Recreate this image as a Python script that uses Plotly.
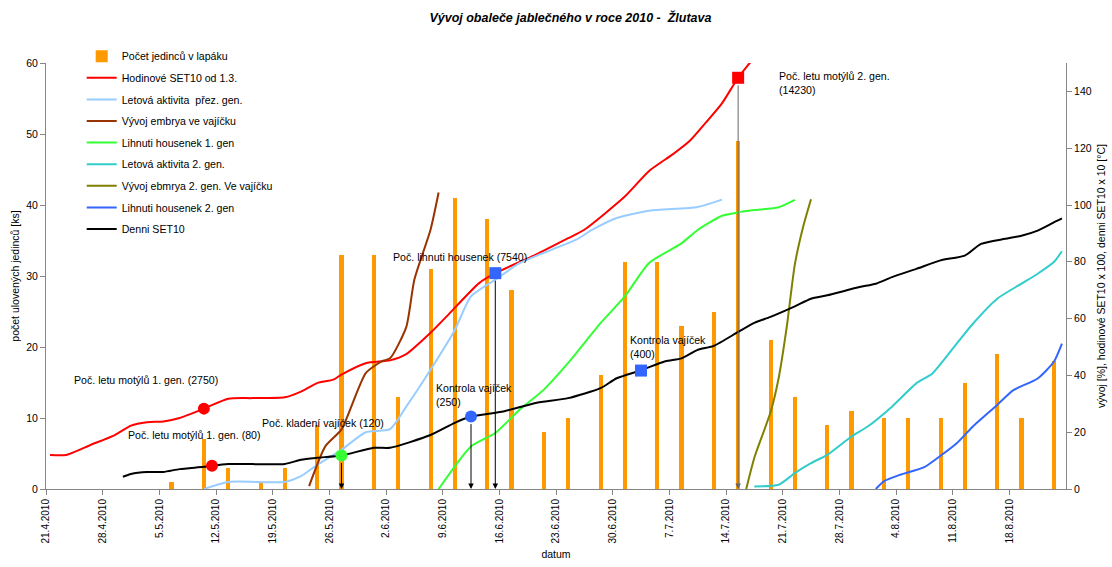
import pandas as pd
import plotly.graph_objects as go

YEAR = "2010"

# --- trap catches (left axis, ks) ---
trap_dates = ["6.5", "10.5", "13.5", "17.5", "20.5", "24.5", "27.5", "31.5", "3.6", "7.6",
              "10.6", "14.6", "17.6", "21.6", "24.6", "28.6", "1.7", "5.7", "8.7", "12.7",
              "15.7", "19.7", "22.7", "26.7", "29.7", "2.8", "5.8", "9.8", "12.8", "16.8",
              "19.8", "23.8"]
trap_counts = [1, 7, 3, 1, 3, 9, 33, 33, 13, 31,
               41, 38, 28, 8, 10, 16, 32, 32, 23, 25,
               49, 21, 13, 9, 11, 10, 10, 10, 15, 19,
               10, 18]

# --- development curves (right axis) ---
set10_hour_dates = ["21.4", "23.4", "26.4", "29.4", "1.5", "3.5", "5.5", "7.5", "10.5", "13.5",
                    "16.5", "20.5", "22.5", "24.5", "26.5", "27.5", "30.5", "2.6", "4.6", "7.6",
                    "9.6", "13.6", "15.6", "20.6", "24.6", "26.6", "1.7", "4.7", "7.7", "9.7",
                    "11.7", "13.7", "15.7", "17.7"]
set10_hour_vals = [12, 12, 15.5, 19, 22.3, 23.5, 23.8, 25, 28.3, 31.8,
                   32, 32.3, 34.3, 37.3, 38.5, 40.3, 44.3, 45.3, 47.5, 55,
                   60.8, 72.5, 76, 82.5, 88.3, 91.3, 103, 112, 118, 122.5,
                   129, 135.8, 144.8, 152]

flight_over_dates = ["10.5", "13.5", "20.5", "22.5", "24.5", "27.5", "30.5", "2.6", "4.6", "7.6",
                     "10.6", "12.6", "15.6", "18.6", "22.6", "25.6", "27.6", "30.6", "4.7", "10.7",
                     "13.7"]
flight_over_vals = [0, 2.5, 2.5, 4.5, 8.5, 13.8, 20, 21.1, 29, 42,
                    56, 67.8, 73.7, 79.5, 84.3, 87.8, 91.3, 95.4, 98, 99.3,
                    101.9]

embryo1_dates = ["23.5", "25.5", "27.5", "30.5", "1.6", "2.6", "4.6", "5.6", "7.6", "8.6"]
embryo1_vals = [1, 15, 21, 40.8, 45, 46, 57, 73.7, 91.3, 104.4]

hatch1_dates = ["8.6", "12.6", "15.6", "18.6", "21.6", "24.6", "28.6", "1.7", "4.7", "8.7",
                "10.7", "13.7", "15.7", "17.7", "20.7", "22.7"]
hatch1_vals = [0, 15, 19.7, 27.9, 35, 44.4, 58.4, 67.8, 79.6, 86.5,
               91.2, 96.2, 97.4, 98.2, 99.2, 101.8]

flight2_dates = ["17.7", "20.7", "22.7", "24.7", "26.7", "29.7", "31.7", "3.8", "6.8", "8.8",
                 "11.8", "13.8", "16.8", "19.8", "21.8", "23.8", "24.8"]
flight2_vals = [0.9, 1.5, 5.6, 9.1, 12, 18.5, 22, 29, 37.2, 40.7,
                51.2, 58.2, 67, 72.3, 75.8, 79.9, 83.7]

embryo2_dates = ["16.7", "17.7", "19.7", "20.7", "21.7", "22.7", "23.7", "24.7"]
embryo2_vals = [0, 11, 27, 39, 57, 79, 92, 102]

hatch2_dates = ["1.8", "2.8", "4.8", "7.8", "9.8", "11.8", "13.8", "16.8", "18.8", "21.8",
                "23.8", "24.8"]
hatch2_vals = [0, 2.7, 5, 7.7, 11.7, 16.1, 22, 29.6, 34.8, 38.9,
               44.8, 51.2]

set10_day_dates = ["30.4", "1.5", "3.5", "5.5", "7.5", "10.5", "13.5", "20.5", "22.5", "24.5",
                   "27.5", "31.5", "2.6", "7.6", "10.6", "12.6", "16.6", "20.6", "24.6", "28.6",
                   "30.6", "3.7", "6.7", "8.7", "10.7", "12.7", "15.7", "17.7", "19.7", "22.7",
                   "24.7", "26.7", "30.7", "1.8", "3.8", "6.8", "9.8", "12.8", "14.8", "17.8",
                   "19.8", "21.8", "23.8", "24.8"]
set10_day_vals = [4.3, 5.3, 6, 6, 7, 7.8, 8.8, 8.8, 10.3, 11,
                  11.8, 14.5, 14.5, 19, 23.3, 25.5, 27.3, 30.3, 32, 35.5,
                  39, 41.8, 45, 46, 49, 50.4, 55.3, 58.5, 60.6, 64.3,
                  67, 68.2, 71.1, 72.3, 74.6, 77.5, 80.5, 82.2, 86.3, 88.1,
                  89.2, 91, 93.9, 95.3]

# --- highlighted events ---
event_dates = ["10.5", "11.5", "27.5", "12.6", "15.6", "3.7", "15.7"]
event_vals = [28.3, 8.2, 11.8, 25.5, 76, 41.7, 144.8]
event_symbols = ["circle", "circle", "circle", "circle", "square", "square", "square"]
event_colors = ["#FF0000", "#FF0000", "#33FF33", "#3366FF", "#3366FF", "#3366FF", "#FF0000"]
arrow_events = [2, 3, 4, 6]          # indices of events with a drop line to the axis
arrow_colors = ["#000000", "#000000", "#000000", "#666666"]

event_labels = ["Poč. letu motýlů 1. gen. (2750)",
                "Poč. letu motýlů 1. gen. (80)",
                "Poč. kladení vajíček (120)",
                "Poč. lihnuti housenek (7540)",
                "Kontrola vajíček<br>(250)",
                "Kontrola vajíček<br>(400)",
                "Poč. letu motýlů 2. gen.<br>(14230)"]
label_x = ["2010-04-24 04:00", "2010-04-30 20:00", "2010-05-17 10:00", "2010-06-02 15:00",
           "2010-06-07 22:00", "2010-07-01 22:00", "2010-07-20 08:00"]
label_y = [38.3, 18.9, 23.1, 81.7, 33, 49.9, 142.8]

tick_dates = ["21.4", "28.4", "5.5", "12.5", "19.5", "26.5", "2.6", "9.6", "16.6", "23.6",
              "30.6", "7.7", "14.7", "21.7", "28.7", "4.8", "11.8", "18.8"]


def day_centre(dates):
    """Each day occupies a slot on the date axis; marks sit in the middle of it."""
    d = pd.to_datetime([s + "." + YEAR for s in dates], format="%d.%m.%Y")
    return d + pd.Timedelta(hours=12)


FONT = "Liberation Sans, Arial, sans-serif"
TXT = 10.6
fig = go.Figure()

fig.add_trace(go.Bar(
    x=day_centre(trap_dates), y=trap_counts, name="Počet jedinců v lapáku",
    marker=dict(color="#FF9900", line=dict(width=0)),
    width=0.5 * 86400000, yaxis="y", legendgroup="g0"))

series = [
    ("Hodinové SET10 od 1.3.", set10_hour_dates, set10_hour_vals, "#FF0000"),
    ("Letová aktivita  přez. gen.", flight_over_dates, flight_over_vals, "#99CCFF"),
    ("Vývoj embrya ve vajíčku", embryo1_dates, embryo1_vals, "#993300"),
    ("Lihnuti housenek 1. gen", hatch1_dates, hatch1_vals, "#33FF33"),
    ("Letová aktivita 2. gen.", flight2_dates, flight2_vals, "#33CCCC"),
    ("Vývoj ebmrya 2. gen. Ve vajíčku", embryo2_dates, embryo2_vals, "#808000"),
    ("Lihnuti housenek 2. gen", hatch2_dates, hatch2_vals, "#3366FF"),
    ("Denni SET10", set10_day_dates, set10_day_vals, "#000000"),
]
for i, (name, dts, vals, col) in enumerate(series, start=1):
    fig.add_trace(go.Scatter(
        x=day_centre(dts), y=vals, name=name, mode="lines",
        line=dict(color=col, width=2, shape="spline", smoothing=0.6),
        yaxis="y2", legendgroup=f"g{i}"))

ev_x = day_centre(event_dates)
fig.add_trace(go.Scatter(
    x=ev_x, y=event_vals, mode="markers", showlegend=False, yaxis="y2",
    marker=dict(symbol=event_symbols, color=event_colors, size=12, line=dict(width=0)),
    cliponaxis=False, hoverinfo="skip", legendgroup="gm"))

annotations = []
for k, idx in enumerate(arrow_events):
    annotations.append(dict(
        x=ev_x[idx], y=0, xref="x", yref="y2",
        ax=ev_x[idx], ay=event_vals[idx], axref="x", ayref="y2",
        text="", showarrow=True, arrowhead=2, arrowsize=1.1, arrowwidth=1,
        arrowcolor=arrow_colors[k], standoff=0, startstandoff=6))
for txt, lx, ly in zip(event_labels, label_x, label_y):
    annotations.append(dict(
        x=lx, y=ly, xref="x", yref="y2", text=txt, showarrow=False,
        xanchor="left", yanchor="middle", align="left",
        font=dict(family=FONT, size=TXT, color="#000000")))

tick_vals = pd.to_datetime([s + "." + YEAR for s in tick_dates], format="%d.%m.%Y")
tick_text = [s + "." + YEAR for s in tick_dates]

AXIS_COL = "#868686"
fig.update_layout(
    width=1112, height=567,
    margin=dict(l=46, r=46, t=63, b=78),
    paper_bgcolor="white", plot_bgcolor="white",
    font=dict(family=FONT, size=10, color="#000000"),
    title=dict(text="<b><i>Vývoj obaleče jablečného v roce 2010 -  Žlutava</i></b>",
               x=0.513, xanchor="center", y=1 - 18 / 567, yanchor="middle",
               font=dict(family=FONT, size=12.5, color="#000000")),
    bargap=0,
    xaxis=dict(type="date", range=["2010-04-21", "2010-08-25"],
               tickvals=tick_vals, ticktext=tick_text, tickangle=-90,
               ticks="outside", ticklen=5, tickcolor=AXIS_COL,
               showline=True, linecolor=AXIS_COL, linewidth=1,
               showgrid=False, zeroline=False, automargin=False,
               tickfont=dict(size=10),
               title=dict(text="datum", font=dict(size=10.5), standoff=8)),
    yaxis=dict(range=[0, 60], dtick=10, ticks="outside", ticklen=5, tickcolor=AXIS_COL,
               showline=True, linecolor=AXIS_COL, linewidth=1,
               showgrid=False, zeroline=False, automargin=False,
               tickfont=dict(size=10.5),
               title=dict(text="počet ulovených jedinců [ks]", font=dict(size=10.5), standoff=4)),
    yaxis2=dict(range=[0, 150], tickvals=[0, 20, 40, 60, 80, 100, 120, 140],
                overlaying="y", side="right", ticks="outside", ticklen=5, tickcolor=AXIS_COL,
                showline=True, linecolor=AXIS_COL, linewidth=1,
                showgrid=False, zeroline=False, automargin=False,
                tickfont=dict(size=10.5),
                title=dict(text="vývoj [%], hodinové SET10 x 100, denni SET10 x 10 [°C]",
                           font=dict(size=10.5), standoff=6)),
    legend=dict(x=0.035, y=1.05, xanchor="left", yanchor="top",
                bgcolor="rgba(0,0,0,0)", font=dict(family=FONT, size=TXT, color="#000000"),
                tracegroupgap=2.6, itemwidth=30, traceorder="grouped"),
    annotations=annotations,
    showlegend=True,
)

fig.write_html("out.html")
